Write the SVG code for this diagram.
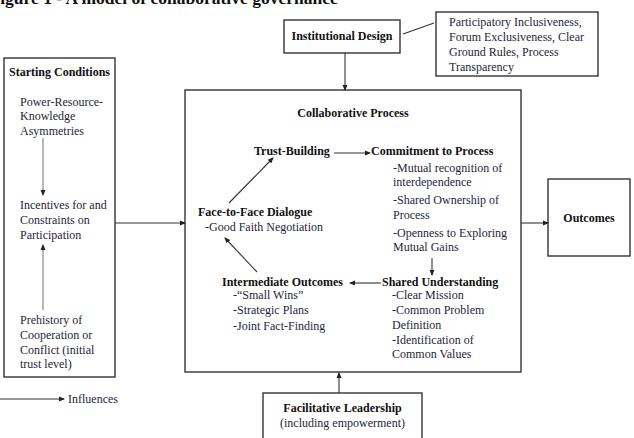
<svg xmlns="http://www.w3.org/2000/svg" width="634" height="438" viewBox="0 0 634 438">
<defs>
<marker id="ah" markerWidth="6" markerHeight="6" refX="5" refY="3" orient="auto" markerUnits="userSpaceOnUse">
<path d="M0,0.5 L6,3 L0,5.5 Z" fill="#222"/>
</marker>
</defs>
<style>
text{font-family:"Liberation Serif","Times New Roman",serif;font-size:12px;fill:#1e1e3c}
.b{font-weight:bold;fill:#111}
.box{fill:#fff;stroke:#333;stroke-width:1.4}
.ln{stroke:#333;stroke-width:1.1;fill:none}
.ar{stroke:#333;stroke-width:1.1;fill:none;marker-end:url(#ah)}
.g{stroke:#888;stroke-width:1.2;fill:none;marker-end:url(#ah)}
</style>
<rect width="634" height="438" fill="#fff"/>
<text class="b" x="-10.5" y="3.5" style="font-size:17.5px">Figure 1 - A model of collaborative governance</text>

<g id="legend">
<text x="68" y="403">Influences</text>
</g>

<g id="institutional-design">
<rect class="box" x="284" y="20" width="116" height="33"/>
<text class="b" x="342" y="40" text-anchor="middle">Institutional Design</text>
</g>

<g id="design-details">
<rect class="box" x="436" y="12" width="162" height="64"/>
<text x="449" y="26">Participatory Inclusiveness,</text>
<text x="449" y="41">Forum Exclusiveness, Clear</text>
<text x="449" y="56">Ground Rules, Process</text>
<text x="449" y="71">Transparency</text>
</g>

<g id="starting-conditions">
<rect class="box" x="4" y="58" width="111" height="319"/>
<text class="b" x="59.5" y="76" text-anchor="middle">Starting Conditions</text>
<text x="20" y="106">Power-Resource-</text>
<text x="20" y="120">Knowledge</text>
<text x="20" y="135">Asymmetries</text>
<text x="20" y="209">Incentives for and</text>
<text x="20" y="224">Constraints on</text>
<text x="20" y="239">Participation</text>
<text x="20" y="324">Prehistory of</text>
<text x="20" y="339">Cooperation or</text>
<text x="20" y="354">Conflict (initial</text>
<text x="20" y="368">trust level)</text>
</g>

<g id="collaborative-process">
<rect class="box" x="185" y="90" width="336" height="282"/>
<text class="b" x="353" y="117" text-anchor="middle">Collaborative Process</text>
</g>

<g id="trust-building">
<text class="b" x="254" y="155">Trust-Building</text>
</g>

<g id="commitment">
<text class="b" x="371" y="155">Commitment to Process</text>
<text x="393" y="172">-Mutual recognition of</text>
<text x="393" y="186">interdependence</text>
<text x="393" y="204">-Shared Ownership of</text>
<text x="393" y="219">Process</text>
<text x="393" y="237">-Openness to Exploring</text>
<text x="393" y="251">Mutual Gains</text>
</g>

<g id="shared-understanding">
<text class="b" x="382" y="286">Shared Understanding</text>
<text x="392" y="299">-Clear Mission</text>
<text x="392" y="314">-Common Problem</text>
<text x="392" y="329">Definition</text>
<text x="392" y="344">-Identification of</text>
<text x="392" y="358">Common Values</text>
</g>

<g id="intermediate-outcomes">
<text class="b" x="222" y="286">Intermediate Outcomes</text>
<text x="233" y="299">-“Small Wins”</text>
<text x="233" y="314">-Strategic Plans</text>
<text x="233" y="330">-Joint Fact-Finding</text>
</g>

<g id="face-to-face">
<text class="b" x="198" y="216">Face-to-Face Dialogue</text>
<text x="205" y="231">-Good Faith Negotiation</text>
</g>

<g id="outcomes">
<rect class="box" x="548" y="179" width="82" height="77"/>
<text class="b" x="589" y="222" text-anchor="middle">Outcomes</text>
</g>

<g id="facilitative-leadership">
<rect class="box" x="263" y="393" width="159" height="50"/>
<text class="b" x="342.5" y="412" text-anchor="middle">Facilitative Leadership</text>
<text x="342.5" y="427" text-anchor="middle">(including empowerment)</text>
</g>

<g id="connectors">
<line class="ln" x1="403" y1="34" x2="434" y2="23"/>
<line class="ar" x1="345" y1="53" x2="345" y2="90"/>
<line class="ar" x1="115" y1="223" x2="185" y2="223"/>
<line class="ar" x1="521" y1="223" x2="548" y2="223"/>
<line class="ar" x1="339" y1="393" x2="339" y2="373"/>
<line class="ar" x1="334" y1="153" x2="370" y2="153"/>
<line class="ar" x1="432" y1="258" x2="432" y2="275"/>
<line class="ar" x1="381" y1="283" x2="350" y2="283"/>
<line class="ar" x1="257" y1="272" x2="225" y2="238"/>
<line class="ar" x1="229" y1="203" x2="273" y2="158"/>
<line class="g" x1="43" y1="138" x2="43" y2="195"/>
<line class="g" x1="43" y1="310" x2="43" y2="245"/>
<line class="ar" x1="0" y1="399" x2="64" y2="399"/>
</g>
</svg>
